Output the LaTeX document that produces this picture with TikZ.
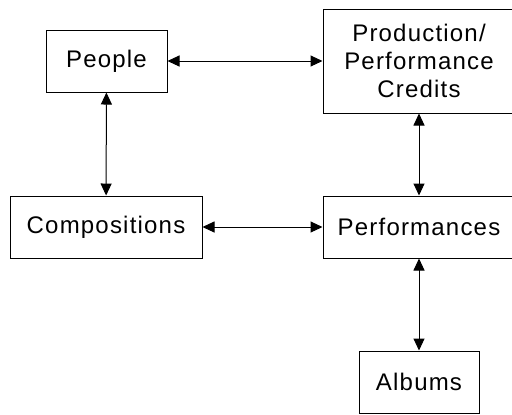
\documentclass[tikz,border=0pt]{standalone}
\usepackage{fontspec}
\setmainfont{Liberation Sans}[LetterSpace=5]
\usetikzlibrary{arrows.meta, positioning}

\begin{document}
\begin{tikzpicture}[x=0.5pt, y=-0.5pt,
        entity/.style={draw, line width=0.5pt, inner sep=0pt, align=center,
            minimum height=31pt, font=\fontsize{12}{14}\selectfont},
        link/.style={{Triangle[length=6pt, width=5.5pt]}-{Triangle[length=6pt, width=5.5pt]}, line width=0.5pt}]

    \useasboundingbox (0,0) rectangle (512,414);

    \node[entity, minimum width=60.5pt] (people) at (106.5,61) {People};
    \node[entity, minimum width=96pt, minimum height=52pt] (credits) at (419,61) {Production/\\Performance\\Credits};
    \node[entity, minimum width=96pt] (comps) at (106,227) {Compositions};
    \node[entity, minimum width=96pt] (perf) at (419,227) {Performances};
    \node[entity, minimum width=60pt] (albums) at (419,382) {Albums};

    \draw[link] (people) -- (credits);
    \draw[link] (people) -- (comps);
    \draw[link] (credits) -- (perf);
    \draw[link] (comps) -- (perf);
    \draw[link] (perf) -- (albums);

\end{tikzpicture}
\end{document}
